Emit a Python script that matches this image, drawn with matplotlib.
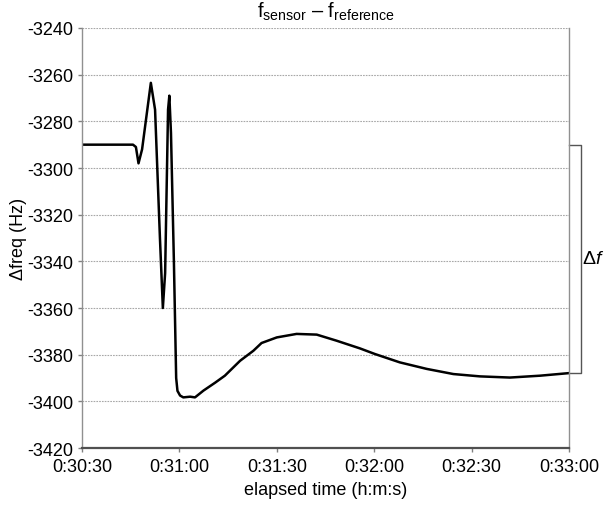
import matplotlib
matplotlib.use("Agg")
import matplotlib.pyplot as plt
from matplotlib.ticker import FuncFormatter

plt.rcParams["font.family"] = ["Liberation Sans", "DejaVu Sans"]
plt.rcParams["mathtext.fontset"] = "custom"
plt.rcParams["mathtext.rm"] = "Liberation Sans"
plt.rcParams["mathtext.it"] = "Liberation Sans:italic"
plt.rcParams["axes.unicode_minus"] = False

# elapsed time in seconds (from 0:00:00) and frequency difference in Hz
time_s = [1830.0, 1845.7, 1846.6, 1847.4, 1848.5, 1851.2, 1852.5, 1854.0, 1854.9,
          1855.6, 1856.5, 1856.9, 1857.4, 1858.3, 1859.0, 1859.4, 1860.2, 1861.2,
          1863.3, 1864.8, 1867.4, 1871.0, 1874.0, 1878.7, 1882.8, 1885.3, 1890.0,
          1896.1, 1902.3, 1908.4, 1915.6, 1920.2, 1927.9, 1936.2, 1944.4, 1952.6,
          1961.8, 1971.1, 1980.0]
delta_freq = [-3290.0, -3290.0, -3291.0, -3298.0, -3292.0, -3263.5, -3275.0, -3330.0, -3360.0,
              -3345.0, -3275.0, -3269.0, -3285.0, -3340.0, -3390.0, -3395.5, -3397.5, -3398.3,
              -3398.0, -3398.3, -3395.4, -3392.0, -3389.0, -3382.6, -3378.3, -3375.0, -3372.6,
              -3371.1, -3371.4, -3374.0, -3377.3, -3379.7, -3383.3, -3386.1, -3388.3, -3389.3,
              -3389.8, -3389.0, -3387.9]

y_ticks = [-3420, -3400, -3380, -3360, -3340, -3320, -3300, -3280, -3260, -3240]
x_tick_seconds = [1830, 1860, 1890, 1920, 1950, 1980]


def hms(sec, _pos=None):
    sec = int(round(sec))
    return f"{sec // 3600}:{(sec % 3600) // 60:02d}:{sec % 60:02d}"


fig = plt.figure(figsize=(6.04, 5.06), dpi=100)
ax = fig.add_axes([0.1358, 0.1126, 0.942 - 0.1358, 0.9427 - 0.1126])

ax.plot(time_s, delta_freq, color="black", lw=1.8, solid_joinstyle="round")

ax.set_xlim(x_tick_seconds[0], x_tick_seconds[-1])
ax.set_ylim(y_ticks[0], y_ticks[-1])
ax.set_yticks(y_ticks)
ax.set_xticks(x_tick_seconds)
ax.xaxis.set_major_formatter(FuncFormatter(hms))

ax.grid(axis="y", color="#a8a8a8", lw=0.8, ls=(0, (1.5, 1)))
ax.set_axisbelow(True)
for side in ["left", "right"]:
    ax.spines[side].set_color("#909090")
    ax.spines[side].set_linewidth(1.0)
ax.spines["top"].set_visible(False)
ax.spines["bottom"].set_color("#505050")
ax.spines["bottom"].set_linewidth(1.6)
ax.tick_params(axis="both", direction="out", length=3, width=1.0, color="#808080",
               labelsize=13)
ax.tick_params(axis="y", pad=3.5)
ax.tick_params(axis="x", pad=4.5)

ax.set_xlabel("elapsed time (h:m:s)", fontsize=13, labelpad=4)
ax.set_ylabel("\u0394freq (Hz)", fontsize=13, labelpad=0)
ax.set_title("f$_{\\mathrm{sensor}}$ \u2013 f$_{\\mathrm{reference}}$", fontsize=14.5, pad=8)

# bracket marking the total shift from start to end
f_start, f_end = delta_freq[0], delta_freq[-1]
bx0, bx1 = 1980.0, 1983.7
ax.plot([bx0, bx1, bx1, bx0], [f_start, f_start, f_end, f_end],
        color="#555555", lw=1.0, clip_on=False)
ax.text(bx1 + 0.4, (f_start + f_end) / 2, "$\\Delta \\mathit{f}$", fontsize=14,
        ha="left", va="center", clip_on=False)

fig.savefig("out.png", dpi=100)
